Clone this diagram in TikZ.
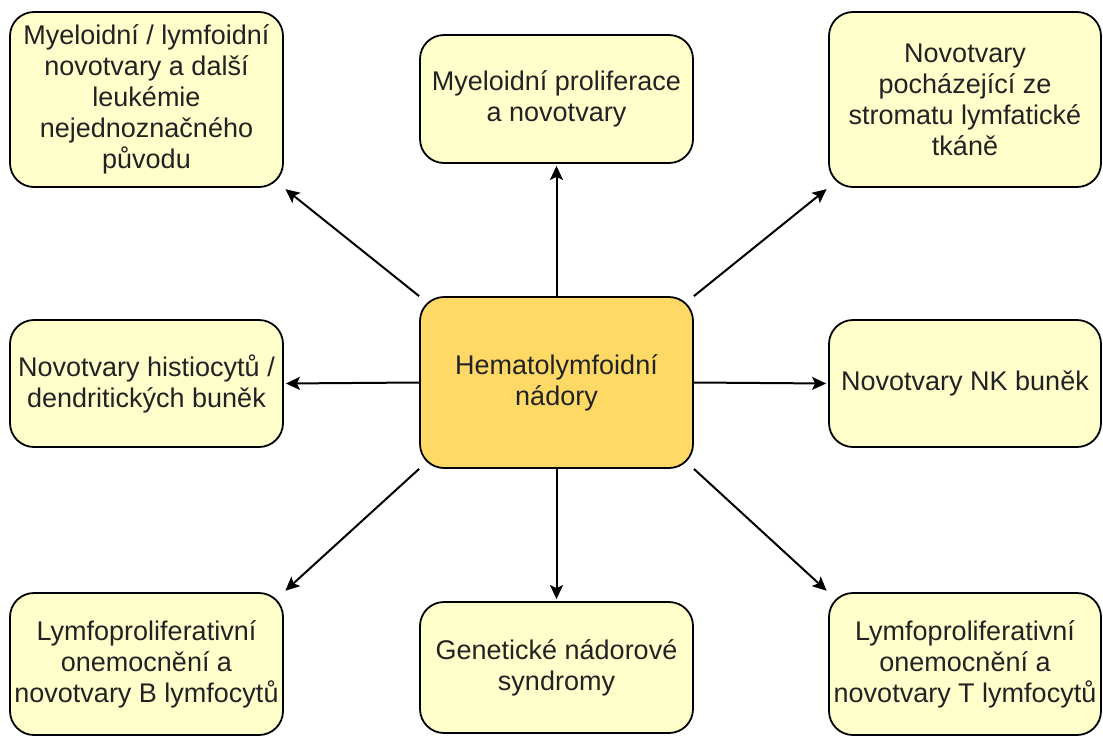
\documentclass[tikz,border=0pt]{standalone}
\usepackage{fontspec}
\setmainfont{Liberation Sans}
\usetikzlibrary{arrows.meta}
\definecolor{boxfill}{HTML}{FFFFCC}
\definecolor{mainfill}{HTML}{FFD966}
\definecolor{txt}{HTML}{222222}
\tikzset{
  box/.style={draw=black, line width=0.9pt, rounded corners=12pt, fill=boxfill,
    align=center, inner sep=0pt, text=txt,
    font=\fontsize{13.5pt}{15.5pt}\selectfont},
  mainbox/.style={box, fill=mainfill},
  conn/.style={draw=black, line width=1pt, -{Stealth[length=7pt,width=6.5pt,inset=1.5pt]}, shorten >=1pt}
}
\begin{document}
\begin{tikzpicture}[x=0.5pt,y=-0.5pt]
\useasboundingbox (0,0) rectangle (1103,740);
\node[mainbox, minimum width=136.5pt, minimum height=85.5pt] (c) at (556.5,382.5) {Hematolymfoidní\\nádory};
\node[box, minimum width=136.5pt, minimum height=87.5pt] (tl) at (146.5,99.5) {Myeloidní / lymfoidní\\novotvary a další\\leukémie\\nejednoznačného\\původu};
\node[box, minimum width=136.5pt, minimum height=64pt] (tc) at (556.5,99) {Myeloidní proliferace\\a novotvary};
\node[box, minimum width=136pt, minimum height=87.5pt] (tr) at (965,99.5) {Novotvary\\pocházející ze\\stromatu lymfatické\\tkáně};
\node[box, minimum width=136.5pt, minimum height=63.5pt] (ml) at (146.5,383.5) {Novotvary histiocytů /\\dendritických buněk};
\node[box, minimum width=136pt, minimum height=63.5pt] (mr) at (965,383.5) {Novotvary NK buněk};
\node[box, minimum width=136.5pt, minimum height=71pt] (bl) at (146.5,664) {Lymfoproliferativní\\onemocnění a\\novotvary B lymfocytů};
\node[box, minimum width=136.5pt, minimum height=65.5pt] (bc) at (556.5,667.5) {Genetické nádorové\\syndromy};
\node[box, minimum width=136pt, minimum height=71pt] (br) at (965,664) {Lymfoproliferativní\\onemocnění a\\novotvary T lymfocytů};
\draw[conn] (c.north west) -- (tl.south east);
\draw[conn] (c.north) -- (tc.south);
\draw[conn] (c.north east) -- (tr.south west);
\draw[conn] (c.west) -- (ml.east);
\draw[conn] (c.east) -- (mr.west);
\draw[conn] (c.south west) -- (bl.north east);
\draw[conn] (c.south) -- (bc.north);
\draw[conn] (c.south east) -- (br.north west);
\end{tikzpicture}
\end{document}
